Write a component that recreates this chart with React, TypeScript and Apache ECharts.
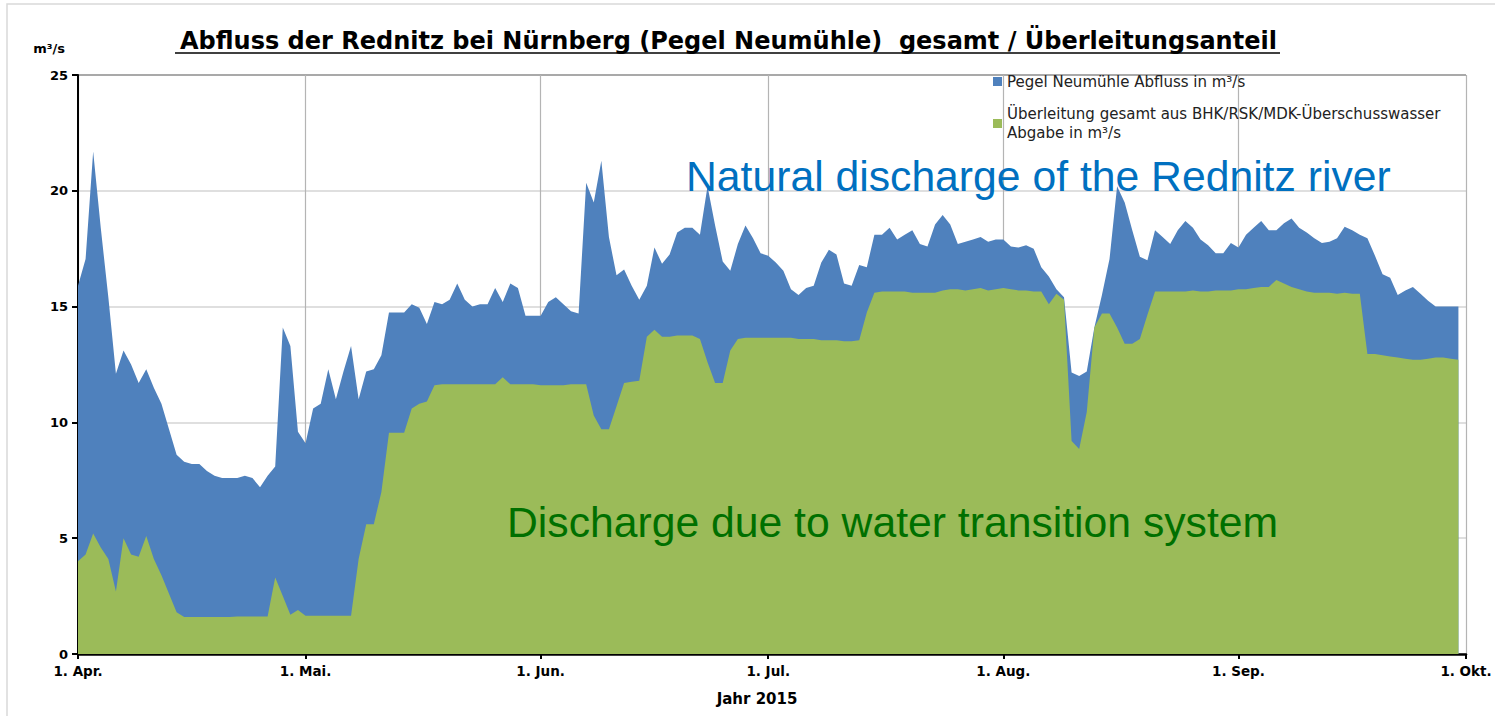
import React, { useEffect, useRef } from "react";
import * as echarts from "echarts";

const monthNames = ["Apr.", "Mai.", "Jun.", "Jul.", "Aug.", "Sep.", "Okt."];
const monthLengths = [30, 31, 30, 31, 31, 30, 1];
const yMin = 0;
const yMax = 25;
const yStep = 5;

const seriesNames = [
  "Pegel Neumühle Abfluss in m³/s",
  "Überleitung gesamt aus BHK/RSK/MDK-Überschusswasser Abgabe in m³/s",
];

// total discharge (Pegel Neumühle), 1 Apr – 30 Sep 2015
const pegelAbfluss = [
  15.9, 17.05, 21.7, 18.4, 15.4, 12.1, 13.1, 12.5, 11.7, 12.3,
  11.5, 10.8, 9.7, 8.6, 8.3, 8.2, 8.2, 7.9, 7.7, 7.6,
  7.6, 7.6, 7.7, 7.6, 7.2, 7.7, 8.1, 14.1, 13.3, 9.6,
  9.1, 10.6, 10.8, 12.3, 11.0, 12.2, 13.3, 11.0, 12.2, 12.3,
  12.9, 14.75, 14.75, 14.75, 15.1, 14.95, 14.25, 15.2, 15.1, 15.3,
  16.0, 15.3, 15.0, 15.1, 15.1, 15.8, 15.2, 16.0, 15.8, 14.6,
  14.6, 14.6, 15.2, 15.4, 15.1, 14.8, 14.7, 20.35, 19.5, 21.3,
  18.0, 16.35, 16.6, 15.9, 15.3, 15.9, 17.55, 16.85, 17.25, 18.2,
  18.4, 18.4, 18.1, 20.2, 18.5, 16.95, 16.55, 17.7, 18.5, 17.95,
  17.3, 17.2, 16.9, 16.55, 15.75, 15.5, 15.8, 15.9, 16.9, 17.45,
  17.25, 16.0, 15.9, 16.8, 16.7, 18.1, 18.1, 18.4, 17.9, 18.1,
  18.3, 17.7, 17.6, 18.55, 18.95, 18.55, 17.7, 17.8, 17.9, 18.0,
  17.8, 17.9, 17.9, 17.6, 17.55, 17.65, 17.5, 16.7, 16.3, 15.75,
  15.4, 12.15, 12.0, 12.2, 14.1, 15.5, 17.05, 20.2, 19.5, 18.3,
  17.15, 17.0, 18.3, 18.0, 17.7, 18.3, 18.7, 18.4, 17.9, 17.65,
  17.3, 17.3, 17.75, 17.55, 18.1, 18.4, 18.7, 18.3, 18.3, 18.6,
  18.8, 18.4, 18.2, 17.95, 17.75, 17.8, 17.95, 18.45, 18.3, 18.1,
  17.95, 17.2, 16.4, 16.25, 15.5, 15.7, 15.85, 15.55, 15.25, 15.0,
  15.0, 15.0, 15.0,
];

// transferred water (Überleitung), 1 Apr – 30 Sep 2015
const ueberleitung = [
  4.0, 4.3, 5.2, 4.6, 4.1, 2.7, 5.0, 4.3, 4.2, 5.1,
  4.1, 3.4, 2.6, 1.8, 1.6, 1.6, 1.6, 1.6, 1.6, 1.6,
  1.6, 1.62, 1.62, 1.62, 1.62, 1.62, 3.3, 2.5, 1.7, 1.9,
  1.65, 1.65, 1.65, 1.65, 1.65, 1.65, 1.65, 4.1, 5.6, 5.6,
  7.0, 9.55, 9.55, 9.55, 10.6, 10.8, 10.9, 11.6, 11.65, 11.65,
  11.65, 11.65, 11.65, 11.65, 11.65, 11.65, 11.95, 11.65, 11.65, 11.65,
  11.65, 11.6, 11.6, 11.6, 11.6, 11.65, 11.65, 11.65, 10.3, 9.7,
  9.7, 10.7, 11.7, 11.75, 11.8, 13.7, 14.0, 13.7, 13.7, 13.75,
  13.75, 13.75, 13.6, 12.6, 11.7, 11.7, 13.1, 13.6, 13.65, 13.65,
  13.65, 13.65, 13.65, 13.65, 13.65, 13.6, 13.6, 13.6, 13.55, 13.55,
  13.55, 13.5, 13.5, 13.55, 14.75, 15.6, 15.65, 15.65, 15.65, 15.65,
  15.6, 15.6, 15.6, 15.6, 15.7, 15.75, 15.75, 15.7, 15.75, 15.8,
  15.7, 15.75, 15.8, 15.75, 15.7, 15.7, 15.65, 15.65, 15.1, 15.55,
  15.3, 9.2, 8.85, 10.45, 14.1, 14.7, 14.7, 14.1, 13.4, 13.4,
  13.6, 14.65, 15.65, 15.65, 15.65, 15.65, 15.65, 15.7, 15.65, 15.65,
  15.7, 15.7, 15.7, 15.75, 15.75, 15.8, 15.85, 15.85, 16.15, 16.0,
  15.85, 15.75, 15.65, 15.6, 15.6, 15.6, 15.55, 15.6, 15.55, 15.55,
  12.95, 12.95, 12.9, 12.85, 12.8, 12.75, 12.7, 12.7, 12.75, 12.8,
  12.8, 12.75, 12.7,
];

const categories: string[] = [];
monthNames.forEach((m, i) => {
  for (let d = 1; d <= monthLengths[i]; d++) categories.push(`${d}. ${m}`);
});
const isMonthStart = (idx: number) => categories[idx].startsWith("1. ");

export default function App() {
  const ref = useRef<HTMLDivElement>(null);

  useEffect(() => {
    document.body.style.margin = "0";
    if (!ref.current) return;
    const chart = echarts.init(ref.current, undefined, { renderer: "svg" });
    const labelFont = { fontFamily: "DejaVu Sans", fontWeight: "bold" as const, fontSize: 13, color: "#000" };
    chart.setOption({
      animation: false,
      backgroundColor: "#ffffff",
      title: {
        text: "Abfluss der Rednitz bei Nürnberg (Pegel Neumühle)  gesamt / Überleitungsanteil",
        left: 175,
        top: 24,
        textStyle: { fontFamily: "DejaVu Sans", fontWeight: "bold", fontSize: 24, color: "#000" },
      },
      legend: {
        orient: "vertical",
        left: 988,
        top: 67,
        itemWidth: 9,
        itemHeight: 9,
        itemGap: 4,
        itemTextGap: 4,
        icon: "rect",
        textStyle: { fontFamily: "DejaVu Sans", fontSize: 15, color: "#222", lineHeight: 19 },
        data: [
          { name: seriesNames[0] },
          { name: seriesNames[1], textStyle: { padding: [19, 0, 0, 0] } },
        ],
        formatter: (name: string) =>
          name === seriesNames[1]
            ? "Überleitung gesamt aus BHK/RSK/MDK-Überschusswasser\nAbgabe in m³/s"
            : name,
      },
      grid: { left: 78, right: 29, top: 75, bottom: 62 },
      xAxis: {
        type: "category",
        data: categories,
        boundaryGap: false,
        name: "Jahr 2015",
        nameLocation: "middle",
        nameGap: 37,
        nameTextStyle: { ...labelFont, fontSize: 15, padding: [0, 30, 0, 0] },
        axisLine: { lineStyle: { color: "#000", width: 2.5 } },
        axisTick: { interval: (i: number) => isMonthStart(i), length: 5, lineStyle: { color: "#000", width: 2 } },
        axisLabel: { interval: (i: number) => isMonthStart(i), margin: 10, ...labelFont, fontSize: 13.5 },
        splitLine: { show: true, interval: (i: number) => isMonthStart(i), lineStyle: { color: "#b4b4b4", width: 1.2 } },
      },
      yAxis: {
        type: "value",
        min: yMin,
        max: yMax,
        interval: yStep,
        name: "m³/s",
        nameLocation: "end",
        nameGap: 20,
        nameTextStyle: { ...labelFont, padding: [0, 58, 0, 0] },
        axisLine: { show: true, lineStyle: { color: "#000", width: 2 } },
        axisTick: { show: true, length: 6, lineStyle: { color: "#000", width: 2 } },
        axisLabel: { margin: 10, ...labelFont },
        splitLine: {
          show: true,
          lineStyle: { color: ["#d4d4d4", "#d4d4d4", "#d4d4d4", "#d4d4d4", "#d4d4d4", "#8c8c8c"], width: 1.5 },
        },
      },
      series: [
        {
          name: seriesNames[0],
          type: "line",
          data: pegelAbfluss,
          symbol: "none",
          lineStyle: { width: 0 },
          itemStyle: { color: "#4F81BD" },
          areaStyle: { color: "#4F81BD", opacity: 1 },
          z: 2,
        },
        {
          name: seriesNames[1],
          type: "line",
          data: ueberleitung,
          symbol: "none",
          lineStyle: { width: 0 },
          itemStyle: { color: "#9BBB59" },
          areaStyle: { color: "#9BBB59", opacity: 1 },
          z: 3,
        },
      ],
      graphic: [
        {
          type: "rect",
          shape: { x: 7, y: 4, width: 1500, height: 720 },
          style: { fill: "none", stroke: "#d9d9d9", lineWidth: 1.5 },
          silent: true,
          z: 0,
        },
        {
          type: "line",
          shape: { x1: 175, y1: 53, x2: 1280, y2: 53 },
          style: { stroke: "#000", lineWidth: 1.5 },
          silent: true,
        },
        {
          type: "text",
          x: 686,
          y: 176,
          z: 10,
          style: {
            text: "Natural discharge of the Rednitz river",
            fill: "#0070C0",
            font: "42.7px 'Liberation Sans', Arial, sans-serif",
            verticalAlign: "middle",
            align: "left",
          },
        },
        {
          type: "text",
          x: 507,
          y: 522,
          z: 10,
          style: {
            text: "Discharge due to water transition system",
            fill: "#007000",
            font: "42.7px 'Liberation Sans', Arial, sans-serif",
            verticalAlign: "middle",
            align: "left",
          },
        },
      ],
    });
    return () => chart.dispose();
  }, []);

  return <div ref={ref} style={{ width: 1495, height: 716 }} />;
}
